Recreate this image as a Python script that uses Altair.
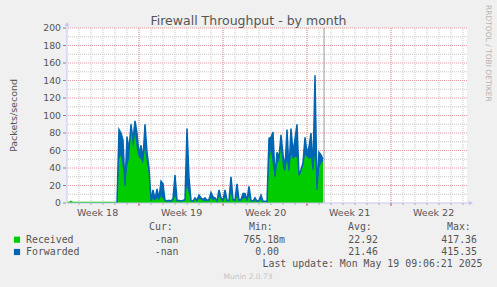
import altair as alt
import pandas as pd

# ---- data (one point every 4 hours) ----
received = [1.5, 1.5, 2.8, 1.5, 1.5, 1.5, 1.5, 1.5, 1.5, 1.5,
            1.5, 1.5, 1.5, 1.5, 1.5, 1.5, 1.5, 1.5, 1.5, 1.5,
            1.5, 1.5, 1.5, 1.5, 1.5, 1.5,
            50, 55, 40, 18, 42, 50, 93, 62, 80, 60,
            52, 50, 45, 64, 45, 34, 2, 5, 3, 6,
            3, 8, 5, 3, 4, 2, 4, 3, 8, 2,
            4, 3, 2, 3, 20, 10, 2, 3, 4, 2,
            5, 4, 3, 2, 3, 2, 6, 3, 5, 2,
            8, 4, 2, 7, 4, 2, 12, 3, 2, 8,
            2, 3, 5, 6, 2, 8, 3, 2, 3, 2,
            2, 4, 2, 2, 1.5,
            49, 60, 42, 30, 45, 48, 64, 40, 36, 49,
            35, 56, 50, 53, 52, 30, 36, 42, 55, 53,
            50, 52, 36, 55, 14, 40, 45, 48]
forwarded = [None] * 25 + [0,
             84, 80, 72, 20, 76, 60, 90, 72, 94, 80,
             55, 66, 50, 90, 58, 40, 3, 15, 4, 16,
             5, 25, 22, 3, 2, 3, 2, 5, 32, 3,
             3, 2, 3, 4, 85, 29, 3, 2, 6, 3,
             9, 6, 4, 6, 3, 4, 12, 7, 6, 2,
             15, 6, 3, 15, 3, 3, 30, 4, 3, 22,
             3, 4, 11, 11, 3, 19, 3, 2, 6, 2,
             3, 9, 2, 2, 1.5,
             74, 75, 81, 30, 58, 52, 78, 55, 40, 84,
             38, 85, 58, 73, 90, 32, 38, 46, 75, 57,
             64, 80, 38, 146, 15, 58, 55, 50]
day = [k / 6 for k in range(len(received))]

now_day = [21.42]
day_lines = list(range(1, 34))
week_lines = [6, 13, 20, 27]
week_label_days = [2.55, 9.55, 16.55, 23.55, 30.55]
week_labels = ["Week 18", "Week 19", "Week 20", "Week 21", "Week 22"]
minor_y = [10, 30, 50, 70, 90, 110, 130, 150, 170, 190]
major_y = [20, 40, 60, 80, 100, 120, 140, 160, 180, 200]
y_ticks = [0, 20, 40, 60, 80, 100, 120, 140, 160, 180, 200]

series_names = ["Received", "Forwarded"]
series_colors = ["#00CC00", "#0066B3"]
cur_vals = ["-nan", "-nan"]
min_vals = ["765.18m", "0.00"]
avg_vals = ["22.92", "21.46"]
max_vals = ["417.36", "415.35"]
headers = ["Cur:", "Min:", "Avg:", "Max:"]

title_text = "Firewall Throughput - by month"
y_title = "Packets/second"
last_update = "Last update: Mon May 19 09:06:21 2025"
munin_ver = "Munin 2.0.73"
watermark = "RRDTOOL / TOBI OETIKER"

# ---- chart ----
W, H = 400, 175
xs = alt.Scale(domain=[0, 400 / 12], nice=False, zero=False)
ys = alt.Scale(domain=[0, 200], nice=False)
LAB = "#555555"
SANS = "DejaVu Sans"
MONO = "DejaVu Sans Mono"
GREEN, BLUE = series_colors

df = pd.DataFrame({"day": day, "Received": received, "Forwarded": forwarded})

vminor = alt.Chart(pd.DataFrame({"d": day_lines})).mark_rule(
    color="#c8c8c8", strokeDash=[1, 1], strokeWidth=1).encode(
    x=alt.X("d:Q", scale=xs, axis=None))
vmajor = alt.Chart(pd.DataFrame({"d": week_lines})).mark_rule(
    color="#e39a9a", strokeDash=[1, 1], strokeWidth=1).encode(
    x=alt.X("d:Q", scale=xs, axis=None))
hminor = alt.Chart(pd.DataFrame({"v": minor_y})).mark_rule(
    color="#c8c8c8", strokeDash=[1, 1], strokeWidth=1).encode(
    y=alt.Y("v:Q", scale=ys, axis=None))
hmajor = alt.Chart(pd.DataFrame({"v": major_y})).mark_rule(
    color="#e39a9a", strokeDash=[1, 1], strokeWidth=1).encode(
    y=alt.Y("v:Q", scale=ys, axis=None))

ylab_df = pd.DataFrame({"v": y_ticks})
ytick_marks = alt.Chart(ylab_df).mark_rule(color="#888888", strokeWidth=1).encode(
    y=alt.Y("v:Q", scale=ys, axis=None), x=alt.value(-4), x2=alt.value(-1))
ytick_labels = alt.Chart(ylab_df).mark_text(
    font=SANS, fontSize=9.3, color=LAB, align="right", baseline="middle").encode(
    y=alt.Y("v:Q", scale=ys, axis=None), x=alt.value(-6), text="v:N")

tick_minor = alt.Chart(pd.DataFrame({"d": day_lines})).mark_rule(
    color="#aaaaaa", strokeWidth=1).encode(
    x=alt.X("d:Q", scale=xs, axis=None), y=alt.value(H), y2=alt.value(H + 2))
tick_major = alt.Chart(pd.DataFrame({"d": week_lines})).mark_rule(
    color="#dd5555", strokeWidth=1).encode(
    x=alt.X("d:Q", scale=xs, axis=None), y=alt.value(H), y2=alt.value(H + 3))

fwd_area = alt.Chart(df).mark_area(color=BLUE, interpolate="linear", opacity=1).encode(
    x=alt.X("day:Q", scale=xs, axis=None),
    y=alt.Y("Forwarded:Q", scale=ys, axis=None))
area = alt.Chart(df).mark_area(color=GREEN, interpolate="linear", opacity=1).encode(
    x=alt.X("day:Q", scale=xs, axis=None),
    y=alt.Y("Received:Q", scale=ys, axis=None))
line = alt.Chart(df).mark_line(color=BLUE, strokeWidth=1.5,
                               interpolate="linear").encode(
    x=alt.X("day:Q", scale=xs, axis=None),
    y=alt.Y("Forwarded:Q", scale=ys, axis=None))

now_rule = alt.Chart(pd.DataFrame({"d": now_day})).mark_rule(
    color="#999999", strokeWidth=1).encode(x=alt.X("d:Q", scale=xs, axis=None))

AX = "#c4c4f0"
y_axis_line = alt.Chart(pd.DataFrame({"a": [0]})).mark_rule(
    color=AX, strokeWidth=1).encode(
    x=alt.value(0), y=alt.value(-4), y2=alt.value(H))
x_axis_line = alt.Chart(pd.DataFrame({"a": [0]})).mark_rule(
    color=AX, strokeWidth=1).encode(
    x=alt.value(0), x2=alt.value(W + 4), y=alt.value(H))
arrow_up = alt.Chart(pd.DataFrame({"a": [0]})).mark_point(
    shape="triangle-up", filled=True, color=AX, size=22, opacity=1).encode(
    x=alt.value(0), y=alt.value(-4))
arrow_right = alt.Chart(pd.DataFrame({"a": [0]})).mark_point(
    shape="triangle-right", filled=True, color=AX, size=22, opacity=1).encode(
    x=alt.value(W + 4), y=alt.value(H))

week_text = alt.Chart(pd.DataFrame({"d": week_label_days, "t": week_labels})).mark_text(
    font=SANS, fontSize=9.5, color=LAB, baseline="alphabetic", align="center").encode(
    x=alt.X("d:Q", scale=xs, axis=None), y=alt.value(H + 13), text="t:N")


def txt(s, x, y, size=9.9, font=MONO, color=LAB, align="left", angle=0,
        baseline="alphabetic"):
    kw = dict(font=font, fontSize=size, color=color, align=align,
              baseline=baseline)
    if angle:
        kw["angle"] = angle
    return alt.Chart(pd.DataFrame({"t": [s]})).mark_text(**kw).encode(
        text="t:N", x=alt.value(x), y=alt.value(y))


OX, OY = 67, 28
texts = [
    txt(title_text, 248.5 - OX, 24.5 - OY, size=12.5, font=SANS, align="center"),
    txt(y_title, 14 - OX, 115.5 - OY, size=9.5, font=SANS, align="center",
        angle=270, baseline="middle"),
    txt(watermark, 488 - OX, 5 - OY, size=7.5, font=SANS, color="#b4b4b4",
        angle=90, baseline="middle"),
    txt(last_update, 482.5 - OX, 266.5 - OY, align="right"),
    txt(munin_ver, 248 - OX, 279 - OY, size=7.5, font=SANS, color="#c4c4c4",
        align="center"),
]
for h, hx in zip(headers, [149, 249, 348, 447]):
    texts.append(txt(h, hx - OX, 230 - OY))
row_y = [242.7, 255]
min_right = [285, 279]
for i in range(2):
    texts.append(txt(series_names[i], 26 - OX, row_y[i] - OY))
    texts.append(txt(cur_vals[i], 178.5 - OX, row_y[i] - OY, align="right"))
    texts.append(txt(min_vals[i], min_right[i] - OX, row_y[i] - OY, align="right"))
    texts.append(txt(avg_vals[i], 378 - OX, row_y[i] - OY, align="right"))
    texts.append(txt(max_vals[i], 477 - OX, row_y[i] - OY, align="right"))

legend_sq = []
for i in range(2):
    legend_sq.append(alt.Chart(pd.DataFrame({"c": [series_colors[i]]})).mark_square(
        size=38, filled=True, opacity=1, color=series_colors[i]).encode(
        x=alt.value(17 - OX), y=alt.value(row_y[i] - 3 - OY)))

chart = alt.layer(
    hminor, vminor, hmajor, vmajor, tick_minor, tick_major,
    fwd_area, area, line, now_rule, y_axis_line, x_axis_line, arrow_up, arrow_right,
    ytick_marks, ytick_labels, week_text, *texts, *legend_sq
).properties(
    width=W, height=H,
    padding={"left": OX, "top": OY, "right": 497 - OX - W, "bottom": 287 - OY - H},
    autosize=alt.AutoSizeParams(type="none"),
    background="#F0F0F0",
).configure_view(fill="white", stroke=None)

chart.save("out.html", embed_options={"renderer": "svg", "actions": False})
